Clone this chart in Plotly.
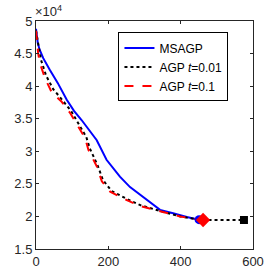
import plotly.graph_objects as go

# MSAGP
ms_x = [0, 2, 5, 10, 20, 38, 60, 85, 105, 126, 148, 168, 195, 232, 260, 288, 315, 343, 379, 417, 451]
ms_y = [4.88, 4.80, 4.66, 4.56, 4.43, 4.25, 4.05, 3.79, 3.62, 3.48, 3.32, 3.17, 2.87, 2.61, 2.45, 2.33, 2.21, 2.10, 2.05, 1.99, 1.95]
# AGP t=0.01
a1_x = [0, 4, 8, 14, 28, 48, 74, 98, 120, 139, 149, 170, 185, 209, 254, 290, 345, 400, 440, 462, 575]
a1_y = [4.85, 4.72, 4.55, 4.40, 4.16, 3.95, 3.78, 3.61, 3.40, 3.22, 3.04, 2.79, 2.56, 2.39, 2.26, 2.17, 2.08, 2.00, 1.96, 1.945, 1.945]
# AGP t=0.1
a2_x = [0, 3, 6, 11, 25, 43, 71, 94, 117, 136, 145, 168, 182, 205, 251, 288, 343, 398, 440, 462]
a2_y = [4.85, 4.60, 4.50, 4.35, 4.12, 3.91, 3.76, 3.59, 3.37, 3.20, 3.02, 2.77, 2.54, 2.38, 2.25, 2.16, 2.08, 2.00, 1.96, 1.945]

scale = 1e4
ytick_vals = [1.5, 2, 2.5, 3, 3.5, 4, 4.5, 5]
xtick_vals = [0, 200, 400, 600]

fig = go.Figure()
fig.add_trace(go.Scatter(x=ms_x, y=[v * scale for v in ms_y], mode="lines",
                         line=dict(color="#0000ff", width=2), name="MSAGP"))
fig.add_trace(go.Scatter(x=a1_x, y=[v * scale for v in a1_y], mode="lines",
                         line=dict(color="black", width=2, dash="dot"), name="AGP <i>t</i>=0.01"))
fig.add_trace(go.Scatter(x=a2_x, y=[v * scale for v in a2_y], mode="lines",
                         line=dict(color="#ff0000", width=2, dash="dash"), name="AGP <i>t</i>=0.1"))
fig.add_trace(go.Scatter(x=[ms_x[-1]], y=[ms_y[-1] * scale], mode="markers",
                         marker=dict(symbol="circle", color="#0000ff", size=9), showlegend=False))
fig.add_trace(go.Scatter(x=[a2_x[-1]], y=[a2_y[-1] * scale], mode="markers",
                         marker=dict(symbol="diamond", color="#ff0000", size=11), showlegend=False))
fig.add_trace(go.Scatter(x=[a1_x[-1]], y=[a1_y[-1] * scale], mode="markers",
                         marker=dict(symbol="square", color="black", size=8), showlegend=False))

axis_common = dict(showgrid=False, zeroline=False, showline=True, linecolor="#262626",
                   linewidth=1, mirror="ticks", ticks="inside", ticklen=3, automargin=False,
                   tickcolor="#262626", tickfont=dict(family="Liberation Sans, Arial", size=13, color="#262626"))

fig.update_xaxes(range=[0, 600], tickvals=xtick_vals, ticktext=[str(v) for v in xtick_vals], **axis_common)
fig.update_yaxes(range=[1.5 * scale, 5 * scale], tickvals=[v * scale for v in ytick_vals],
                 ticktext=[("%g" % v) for v in ytick_vals], **axis_common)

fig.add_annotation(xref="paper", yref="paper", x=-0.015, y=1.0, xanchor="left", yanchor="bottom",
                   text="×10<sup>4</sup>", showarrow=False,
                   font=dict(family="Liberation Sans, Arial", size=13, color="#262626"))

fig.update_layout(width=280, height=280, margin=dict(l=36, r=27, t=21, b=31, autoexpand=False),
                  plot_bgcolor="white", paper_bgcolor="white",
                  legend=dict(x=0.38, y=0.95, xanchor="left", yanchor="top",
                              bgcolor="white", bordercolor="black", borderwidth=1,
                              font=dict(family="Liberation Sans, Arial", size=12, color="black"),
                              tracegroupgap=0, itemwidth=30))

fig.write_html("out.html", config={"displayModeBar": False},
               post_script="document.body.style.margin='0';")
